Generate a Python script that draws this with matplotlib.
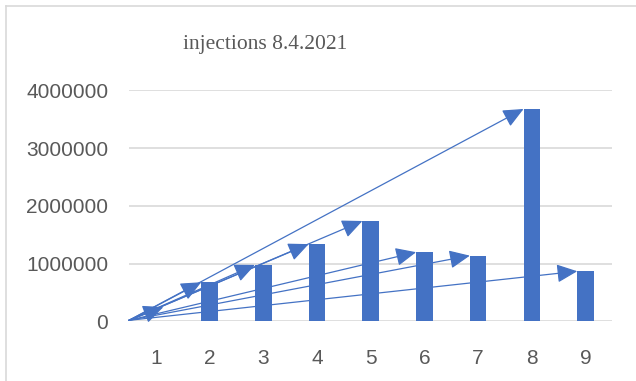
import matplotlib.pyplot as plt
import numpy as np
from matplotlib.lines import Line2D

# Daily injections per category
categories = [1, 2, 3, 4, 5, 6, 7, 8, 9]
injections = [0, 680000, 980000, 1340000, 1740000, 1200000, 1140000, 3680000, 870000]
# Heights the arrows point at (the first one has no bar under it)
arrow_heights = [250000, 680000, 980000, 1340000, 1740000, 1200000, 1140000, 3680000, 870000]
yticks = [0, 1000000, 2000000, 3000000, 4000000]

blue = '#4472C4'
gray_text = '#595959'
bar_width = 0.31

fig = plt.figure(figsize=(6.36, 3.81), dpi=100)
ax = fig.add_axes([0.2028, 0.1562, 0.7602, 0.6063])

x = np.array(categories, dtype=float)
ax.bar(x, injections, width=bar_width, color=blue, zorder=2)

# Arrows from the origin to the top-left corner of each bar
tip_x = x - bar_width / 2
tip_x[0] = 1.14
for tx, ty in zip(tip_x, arrow_heights):
    ax.annotate('', xy=(tx, ty), xytext=(0.5, 20000),
                arrowprops=dict(arrowstyle='-|>,head_length=0.6,head_width=0.27',
                                mutation_scale=21, color=blue, lw=0.9,
                                shrinkA=0, shrinkB=0),
                zorder=3, annotation_clip=False)

ax.set_xlim(0.5, 9.5)
ax.set_ylim(0, 4000000)
ax.set_xticks(categories)
ax.set_yticks(yticks)
ax.set_yticklabels([str(v) for v in yticks])
ax.grid(axis='y', color='#D9D9D9', linewidth=1.2, zorder=0)
ax.set_axisbelow(True)
for s in ax.spines.values():
    s.set_visible(False)
ax.tick_params(length=0, labelsize=15, labelcolor=gray_text)
ax.tick_params(axis='x', pad=20)
ax.tick_params(axis='y', pad=15)
for lab in ax.get_xticklabels() + ax.get_yticklabels():
    lab.set_fontfamily('Liberation Sans')

fig.text(265 / 636, 1 - 44 / 381, 'injections 8.4.2021', ha='center', va='center',
         fontsize=15.5, color=gray_text, family='Liberation Serif')

# Chart area frame (top and left edges)
fig.add_artist(Line2D([6 / 636, 1], [1 - 6 / 381, 1 - 6 / 381], color='#D9D9D9', lw=1.2))
fig.add_artist(Line2D([6 / 636, 6 / 636], [0, 1 - 6 / 381], color='#D9D9D9', lw=1.2))

fig.savefig('out.png', dpi=100)
